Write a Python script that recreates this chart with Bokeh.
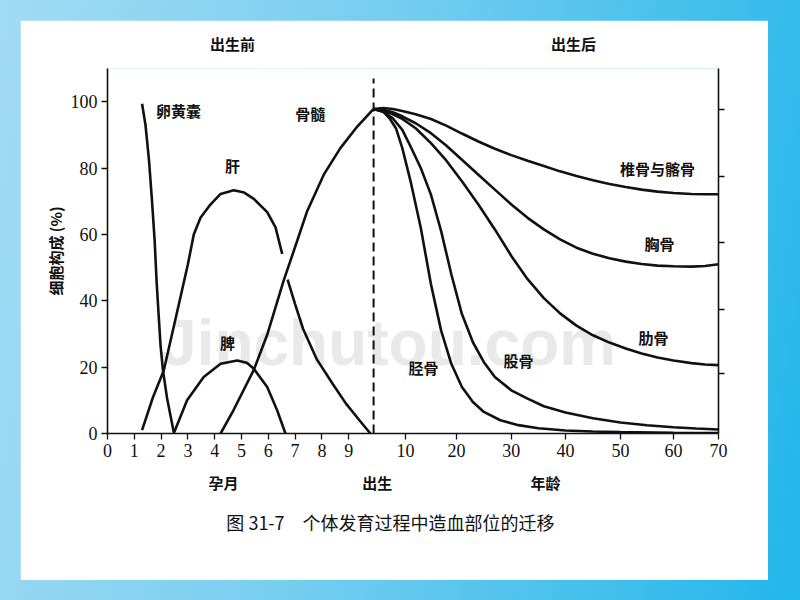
import numpy as np
from bokeh.plotting import figure
from bokeh.models import LinearAxis, FixedTicker, Range1d
from bokeh.layouts import column
from bokeh.embed import file_html
from bokeh.resources import INLINE
from bokeh.core.properties import value

# ---------------- data ----------------
MONTH_TICKS = [0, 1, 2, 3, 4, 5, 6, 7, 8, 9]
AGE_TICKS = [0, 10, 20, 30, 40, 50, 60, 70]

# prenatal curves: x in gestational months, y in % of cell composition
YOLK_M = [1.29, 1.42, 1.55, 1.66, 1.76, 1.83, 1.91, 1.98, 2.07, 2.22, 2.35, 2.47]
YOLK_V = [99.4, 92.8, 82.2, 70.2, 58.1, 46.1, 35.5, 26.5, 19, 10.8, 5.4, 0.5]

LIVER_M = [1.29, 1.7, 2.1, 2.72, 3.0, 3.22, 3.47, 3.84, 4.22, 4.71, 5.1, 5.46, 5.96, 6.27, 6.52,
           np.nan, 6.72, 7.0, 7.3, 7.8, 8.4, 8.9, 9.4, 9.81]
LIVER_V = [1, 11, 19, 41, 51, 60, 65, 69, 72.2, 73.3, 72.6, 70.7, 66.7, 62.1, 54.1,
           np.nan, 46.4, 39, 31.5, 22.5, 15, 9, 4, 0]

SPLEEN_M = [2.47, 2.97, 3.59, 4.22, 4.84, 5.2, 5.46, 5.96, 6.33, 6.64]
SPLEEN_V = [0, 10, 17, 21, 22, 21.3, 19.5, 14, 7, 0]

MARROW_M = [4.22, 4.7, 5.45, 5.97, 6.57, 6.95, 7.45, 8.07, 8.69, 9.32, 9.93]
MARROW_V = [0, 7, 19, 30, 46, 55, 67, 78, 86, 92.5, 97.8]

# postnatal curves: x in years of age, y in %
VERT_AGE = [0, 3, 6, 9, 12, 15, 18, 21, 24, 27, 30, 33, 36, 39, 42, 45, 48, 51, 54, 57, 60, 64, 67, 70]
VERT_V = [97.8, 98.1, 97.8, 97.2, 96.2, 94.8, 92.8, 90.4, 88, 85.8, 83.9, 82.2, 80.6, 79, 77.6,
          76.3, 75.2, 74.3, 73.5, 72.9, 72.5, 72.2, 72.1, 72.1]

STERN_AGE = [0, 3, 6, 9, 12, 15, 18, 21, 24, 27, 30, 33, 36, 39, 42, 45, 48, 51, 54, 57, 60, 64, 67, 70]
STERN_V = [97.8, 97.6, 96.8, 95.6, 93.5, 90.5, 86.8, 82.5, 78, 73.5, 69, 65, 61.5, 58.5, 56,
           54.2, 52.8, 51.8, 51.1, 50.6, 50.4, 50.3, 50.5, 51]

RIB_AGE = [0, 3, 6, 9, 12, 15, 18, 21, 24, 27, 30, 33, 36, 39, 42, 45, 48, 51, 54, 57, 60, 64, 67, 70]
RIB_V = [97.8, 97.3, 96.2, 94.8, 92, 87.5, 82.3, 76, 69, 61.5, 53.5, 46.5, 40.8, 36.2, 32.5,
         29.6, 27.4, 25.6, 24.1, 22.9, 22, 21.2, 20.8, 20.6]

FEMUR_AGE = [0, 3, 6, 9, 11, 13, 15, 17, 19, 21, 23, 25, 27, 30, 33, 36, 40, 45, 50, 55, 60, 65, 70]
FEMUR_V = [97.8, 97, 95, 91.5, 86.5, 80, 72, 61, 48, 36, 27.5, 21.5, 17, 13, 10.5, 8.2, 6.3,
           4.6, 3.3, 2.5, 1.9, 1.5, 1.2]

TIBIA_AGE = [0, 3, 5, 7, 9, 11, 13, 15, 17, 19, 21, 23, 25, 28, 31, 35, 40, 45, 50, 60, 70]
TIBIA_V = [97.8, 97, 95, 92, 86, 76, 62, 45, 31, 21, 14, 9.5, 6.5, 4, 2.6, 1.6, 0.9, 0.6, 0.4, 0.2, 0.1]

LABELS = ["卵黄囊", "骨髓", "肝", "脾", "椎骨与髂骨", "胸骨", "肋骨", "胫骨", "股骨"]
PERIOD_LABELS = ["出生前", "出生后"]
X_TITLES = ["孕月", "出生", "年龄"]
Y_TITLE = "细胞构成 (%)"
CAPTION = "图 31-7\u3000个体发育过程中造血部位的迁移"
Y_TICKS = [0, 20, 40, 60, 80, 100]

# ---------------- axis layout ----------------
BIRTH = 9.93                                          # axis position of birth
AGE_TICK_POS = [9.93, 11.12, 13.02, 15.07, 17.09, 19.14, 21.12, 22.8]   # axis positions of the age ticks


def age_x(a):
    return np.interp(a, AGE_TICKS, AGE_TICK_POS)


SERIF = "Liberation Serif"
CJK = "Noto Sans CJK SC"
INK = "#111111"

p = figure(width=748, height=560, x_range=Range1d(0, 22.8), y_range=Range1d(0, 110),
           output_backend="svg", toolbar_location=None,
           x_axis_location=None, y_axis_location=None,
           min_border_left=87, min_border_right=50, min_border_top=48, min_border_bottom=147,
           background_fill_color="white", border_fill_color="white",
           margin=(20, 32, 20, 20))
p.outline_line_color = None
p.grid.visible = False

# watermark (faint)
p.text(x=[10.49], y=[27.4], text=["Jinchutou.com"], text_font=value("Liberation Sans"),
       text_font_size="64px", text_font_style="bold", text_color="#e9e9e9",
       text_align="center", text_baseline="middle")

lw = 2.6
p.line(YOLK_M, YOLK_V, line_width=lw, line_color=INK)
p.line(LIVER_M, LIVER_V, line_width=lw, line_color=INK)
p.line(SPLEEN_M, SPLEEN_V, line_width=lw, line_color=INK)
p.line(MARROW_M, MARROW_V, line_width=lw, line_color=INK)
for ages, vals in [(VERT_AGE, VERT_V), (STERN_AGE, STERN_V), (RIB_AGE, RIB_V),
                   (FEMUR_AGE, FEMUR_V), (TIBIA_AGE, TIBIA_V)]:
    p.line(age_x(ages), vals, line_width=lw, line_color=INK)

# birth divider
p.line([BIRTH, BIRTH], [0, 107], line_width=2, line_color=INK, line_dash="9 5")

# curve labels
lab_x = [2.65, 7.57, 4.66, 4.48, 20.52, 20.6, 20.37, 11.79, 15.34]
lab_y = [97.3, 96.4, 80.7, 27.4, 79.8, 57.2, 28.9, 19.9, 22.0]
p.text(x=lab_x, y=lab_y, text=LABELS, text_font=value(CJK), text_font_size="15px",
       text_font_style="bold", text_color=INK, text_align="center", text_baseline="middle")

# ---------------- axes ----------------
xt = [float(t) for t in MONTH_TICKS] + AGE_TICK_POS[1:]
xlab = {float(t): str(t) for t in MONTH_TICKS}
for pos, a in zip(AGE_TICK_POS[1:], AGE_TICKS[1:]):
    xlab[pos] = str(a)
xa = LinearAxis(ticker=FixedTicker(ticks=xt), major_label_overrides=xlab)
xa.axis_line_width = 1.6
xa.axis_line_color = INK
xa.major_tick_line_color = INK
xa.major_tick_line_width = 1.3
xa.major_tick_out = 6
xa.major_tick_in = 0
xa.major_label_standoff = 4
xa.major_label_text_font = SERIF
xa.major_label_text_font_size = "18px"
xa.major_label_text_color = INK
p.add_layout(xa, "below")

title_pos = [4.33, 10.07, 16.34]
xa2 = LinearAxis(ticker=FixedTicker(ticks=title_pos),
                 major_label_overrides=dict(zip(title_pos, X_TITLES)))
xa2.axis_line_color = None
xa2.major_tick_line_color = None
xa2.major_label_standoff = 6
xa2.major_label_text_font = CJK
xa2.major_label_text_font_size = "15px"
xa2.major_label_text_font_style = "bold"
xa2.major_label_text_color = INK
p.add_layout(xa2, "below")

cap_pos = [10.56]
xa3 = LinearAxis(ticker=FixedTicker(ticks=cap_pos), major_label_overrides={cap_pos[0]: CAPTION})
xa3.axis_line_color = None
xa3.major_tick_line_color = None
xa3.major_label_standoff = 7
xa3.major_label_text_font = CJK
xa3.major_label_text_font_size = "18px"
xa3.major_label_text_color = INK
p.add_layout(xa3, "below")

period_pos = [4.66, 17.39]
ta = LinearAxis(ticker=FixedTicker(ticks=period_pos),
                major_label_overrides=dict(zip(period_pos, PERIOD_LABELS)))
ta.axis_line_color = None
ta.major_tick_line_color = None
ta.major_label_standoff = 9
ta.major_label_text_font = CJK
ta.major_label_text_font_size = "15px"
ta.major_label_text_font_style = "bold"
ta.major_label_text_color = INK
p.add_layout(ta, "above")

ya = LinearAxis(ticker=FixedTicker(ticks=Y_TICKS), axis_label=Y_TITLE)
ya.axis_line_width = 1.6
ya.axis_line_color = INK
ya.major_tick_line_color = INK
ya.major_tick_line_width = 1.3
ya.major_tick_out = 6
ya.major_tick_in = 0
ya.major_label_standoff = 4
ya.major_label_text_font = SERIF
ya.major_label_text_font_size = "18px"
ya.major_label_text_color = INK
ya.axis_label_text_font = CJK
ya.axis_label_text_font_size = "15px"
ya.axis_label_text_font_style = "bold"
ya.axis_label_text_color = INK
ya.axis_label_standoff = 2
p.add_layout(ya, "left")

r_ticks = [18.0, 37.5, 57.5, 77.5, 97.5]
yr = LinearAxis(ticker=FixedTicker(ticks=r_ticks), major_label_overrides={t: "" for t in r_ticks})
yr.axis_line_width = 1.6
yr.axis_line_color = INK
yr.major_tick_line_color = INK
yr.major_tick_line_width = 1.3
yr.major_tick_out = 6
yr.major_tick_in = 0
p.add_layout(yr, "right")

page = column(p, styles={"background": "linear-gradient(100deg, #a3dbf4 0%, #74cdf0 45%, #22b6ea 100%)"})

with open("out.html", "w") as f:
    f.write(file_html(page, INLINE))
